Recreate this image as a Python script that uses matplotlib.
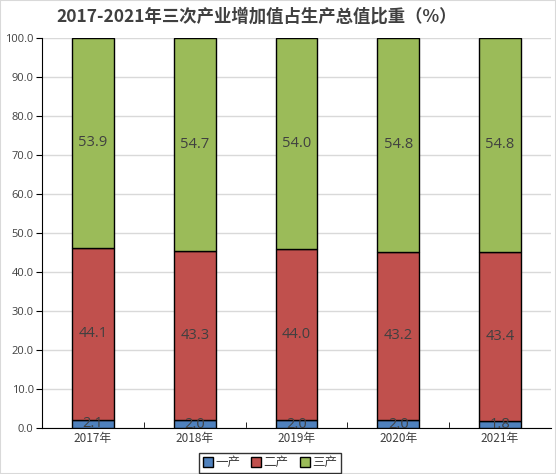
import numpy as np
import matplotlib
matplotlib.use('Agg')
import matplotlib.pyplot as plt

plt.rcParams['font.family'] = ['Noto Sans CJK SC', 'DejaVu Sans']

years = ['2017年', '2018年', '2019年', '2020年', '2021年']
primary = [2.1, 2.0, 2.0, 2.0, 1.8]
secondary = [44.1, 43.3, 44.0, 43.2, 43.4]
tertiary = [53.9, 54.7, 54.0, 54.8, 54.8]

colors = ['#4F81BD', '#C0504D', '#9BBB59']
names = ['一产', '二产', '三产']

fig = plt.figure(figsize=(5.56, 4.74), dpi=100)
ax = fig.add_axes([42 / 556, 1 - 428 / 474, 509 / 556, 390 / 474])

x = np.arange(len(years))
bottom = np.zeros(len(years))
for vals, c, n in zip([primary, secondary, tertiary], colors, names):
    ax.bar(x, vals, 0.41, bottom=bottom, color=c, edgecolor='black',
           linewidth=1, label=n, zorder=3)
    for xi, b, v in zip(x, bottom, vals):
        ax.text(xi, b + v / 2, f'{v:.1f}', ha='center', va='center',
                fontsize=10.5, color='#404040', family='Open Sans',
                zorder=4, clip_on=True)
    bottom += np.array(vals)

ax.set_xlim(-0.5, len(years) - 0.5)
ax.set_ylim(0, 100)
ax.set_yticks(np.arange(0, 101, 10))
ax.set_yticklabels([f'{v:.1f}' for v in np.arange(0, 101, 10)],
                   family='Open Sans', fontsize=8, color='#404040')
ax.set_xticks(x)
ax.set_xticklabels(years, fontsize=8.5, color='#404040')
ax.set_xticks(np.arange(0.5, len(years) - 0.5, 1), minor=True)
ax.tick_params(axis='x', which='major', length=0, pad=3)
ax.tick_params(axis='x', which='minor', length=4, direction='in', color='black')
ax.tick_params(axis='y', length=4, direction='out', color='black', pad=2)
ax.yaxis.grid(True, color='#D9D9D9', linewidth=1, zorder=0)
ax.spines['top'].set_visible(False)
ax.spines['right'].set_visible(False)
ax.spines['left'].set_color('black')
ax.spines['bottom'].set_color('black')

fig.suptitle('2017-2021年三次产业增加值占生产总值比重（%）', x=257 / 556, y=0.985,
             fontsize=12.5, fontweight='bold', color='#404040')

leg = fig.legend(loc='center', bbox_to_anchor=(270 / 556, 1 - 463 / 474), ncol=3,
                 fontsize=9, frameon=True, fancybox=False, edgecolor='black',
                 handlelength=0.8, handleheight=0.8, handletextpad=0.2,
                 columnspacing=0.9, borderpad=0.3, labelcolor='#404040')
leg.get_frame().set_linewidth(1)

fig.patches.append(plt.Rectangle((0, 0), 1, 1, transform=fig.transFigure,
                                 fill=False, edgecolor='#D9D9D9', linewidth=1.5))

fig.savefig('out.png', dpi=100)
